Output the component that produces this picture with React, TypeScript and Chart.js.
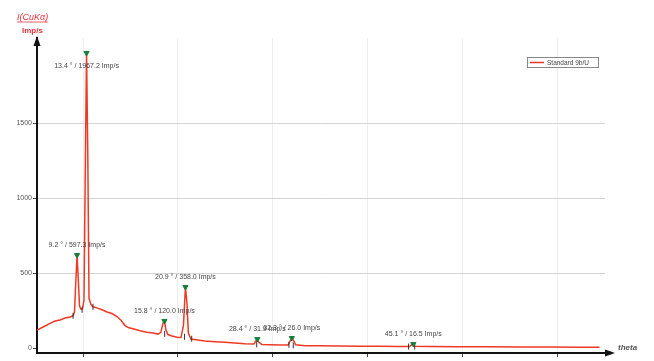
import React, { useEffect, useRef } from "react";
import { Chart, registerables } from "chart.js";
Chart.register(...registerables);

// ---- data (2θ in degrees, intensity in Imp/s) ----
const thetaValues = [
  5.16, 6.0, 6.53, 7.05, 7.58, 8.1, 8.63, 8.95, 9.1, 9.21, 9.37, 9.53, 9.63, 9.79, 9.95,
  10.1, 10.24, 10.37, 10.5, 10.63, 10.84, 11.05, 11.47, 12.0, 12.53, 13.05, 13.58, 14.0,
  14.42, 14.84, 15.26, 16.0, 16.74, 17.37, 17.9, 18.2, 18.42, 18.58, 18.74, 18.95, 19.37,
  19.9, 20.32, 20.58, 20.79, 20.95, 21.1, 21.37, 21.9, 22.84, 23.9, 24.95, 26.0, 27.05,
  28.0, 28.2, 28.37, 28.5, 28.84, 29.7, 30.74, 31.6, 31.8, 32.0, 32.2, 32.4, 33.4, 34.95,
  37.05, 39.16, 41.26, 43.37, 44.42, 44.63, 44.8, 44.95, 46.5, 49.7, 52.84, 56.0, 59.16,
  62.3, 64.42,
];
const intensityValues = [
  120, 147, 165, 180, 187, 200, 207, 215, 240, 400, 620, 420, 280, 258, 262,
  320, 1200, 1967, 1300, 330, 290, 275, 268, 255, 240, 230, 210, 185,
  150, 135, 128, 115, 105, 100, 93, 105, 165, 180, 120, 90, 80,
  72, 70, 150, 407, 300, 100, 60, 55, 47, 42, 38, 33, 28,
  27, 45, 60, 40, 24, 22, 20, 20, 45, 67, 50, 22, 15, 15,
  13, 12, 12, 10, 10, 22, 27, 12, 10, 8, 8, 7, 7,
  6, 6,
];
const peakTheta = [9.37, 10.37, 18.58, 20.79, 28.37, 32.0, 44.8];
const peakIntensity = [620, 1967, 180, 407, 60, 67, 27];
const peakLabels = [
  "9.2 ° / 597.3 Imp/s",
  "13.4 ° / 1967.2 Imp/s",
  "15.8 ° / 120.0 Imp/s",
  "20.9 ° / 358.0 Imp/s",
  "28.4 ° / 31.9 Imp/s",
  "32.3 ° / 26.0 Imp/s",
  "45.1 ° / 16.5 Imp/s",
];
const baseTheta = [8.95, 9.9, 11.05, 18.6, 20.7, 21.45, 28.3, 31.7, 32.15, 44.3, 44.95];
const baseIntensity = [215, 255, 275, 95, 75, 62, 25, 22, 18, 10, 10];
const yTickValues = [0, 500, 1000, 1500];
const xTickValues = [10, 20, 30, 40, 50, 60];
const seriesName = "Standard 9b/U";
const yTitle = "I(CuKα)";
const yUnit = "Imp/s";
const xTitle = "theta";

const FONT = "'Liberation Sans', Arial, sans-serif";

const overlay = {
  id: "overlay",
  afterDatasetsDraw(chart: any) {
    const { ctx, chartArea, scales } = chart;
    const xs = scales.x;
    const ys = scales.y;
    ctx.save();

    // peak labels
    ctx.font = `7px ${FONT}`;
    ctx.fillStyle = "#444";
    ctx.textAlign = "center";
    ctx.textBaseline = "middle";
    peakTheta.forEach((t, i) => {
      const px = xs.getPixelForValue(t);
      const py = ys.getPixelForValue(peakIntensity[i]);
      const ly = Math.max(py - 10, chartArea.top + 28);
      ctx.fillText(peakLabels[i], px, ly);
    });

    // axis arrows
    ctx.fillStyle = "#111";
    ctx.strokeStyle = "#111";
    ctx.lineWidth = 2;
    const left = chartArea.left;
    const bottom = chartArea.bottom;
    ctx.beginPath();
    ctx.moveTo(left, chartArea.top - 2);
    ctx.lineTo(left - 3.5, chartArea.top + 8);
    ctx.lineTo(left + 3.5, chartArea.top + 8);
    ctx.closePath();
    ctx.fill();
    ctx.beginPath();
    ctx.moveTo(chartArea.right, bottom);
    ctx.lineTo(chartArea.right + 4, bottom);
    ctx.stroke();
    ctx.beginPath();
    ctx.moveTo(chartArea.right + 10, bottom);
    ctx.lineTo(chartArea.right, bottom - 3.5);
    ctx.lineTo(chartArea.right, bottom + 3.5);
    ctx.closePath();
    ctx.fill();

    // axis titles
    ctx.textAlign = "left";
    ctx.fillStyle = "#555";
    ctx.font = `italic bold 8px ${FONT}`;
    ctx.fillText(xTitle, chartArea.right + 13, bottom - 5);

    ctx.fillStyle = "#e8323c";
    ctx.font = `italic 9px ${FONT}`;
    ctx.fillText(yTitle, 17, 17);
    const w = ctx.measureText(yTitle).width;
    ctx.strokeStyle = "#e8323c";
    ctx.lineWidth = 0.8;
    ctx.beginPath();
    ctx.moveTo(17, 22);
    ctx.lineTo(17 + w, 22);
    ctx.stroke();
    ctx.font = `bold 8px ${FONT}`;
    ctx.fillText(yUnit, 22, 31);

    // legend
    const lx = 527, ly = 57, lw = 71, lh = 10;
    ctx.fillStyle = "#fff";
    ctx.fillRect(lx, ly, lw, lh);
    ctx.strokeStyle = "#888";
    ctx.lineWidth = 1;
    ctx.strokeRect(lx + 0.5, ly + 0.5, lw, lh);
    ctx.strokeStyle = "#ee3a24";
    ctx.lineWidth = 1.5;
    ctx.beginPath();
    ctx.moveTo(lx + 3, ly + 5.5);
    ctx.lineTo(lx + 17, ly + 5.5);
    ctx.stroke();
    ctx.fillStyle = "#444";
    ctx.font = `6.5px ${FONT}`;
    ctx.fillText(seriesName, lx + 20, ly + 6);

    ctx.restore();
  },
};

export default function App() {
  const ref = useRef<HTMLCanvasElement | null>(null);

  useEffect(() => {
    if (!ref.current) return;
    const curve = thetaValues.map((t, i) => ({ x: t, y: intensityValues[i] }));
    const peaks = peakTheta.map((t, i) => ({ x: t, y: peakIntensity[i] }));
    const bases = baseTheta.map((t, i) => ({ x: t, y: baseIntensity[i] }));

    const chart = new Chart(ref.current, {
      type: "scatter",
      data: {
        datasets: [
          {
            label: "peaks",
            data: peaks,
            showLine: false,
            pointStyle: "triangle",
            rotation: 180,
            pointRadius: 3,
            backgroundColor: "#1b7f3b",
            borderColor: "#1b7f3b",
            borderWidth: 1,
          },
          {
            label: "bases",
            data: bases,
            showLine: false,
            pointStyle: "line",
            rotation: 90,
            pointRadius: 3,
            borderColor: "#333",
            borderWidth: 1,
          },
          {
            label: seriesName,
            data: curve,
            showLine: true,
            pointRadius: 0,
            borderColor: "#ee3a24",
            borderWidth: 1.5,
            tension: 0,
          },
        ],
      },
      options: {
        animation: false,
        responsive: false,
        layout: { padding: { top: 38, right: 49, left: 0, bottom: 0 } },
        plugins: {
          legend: { display: false },
          tooltip: { enabled: false },
          title: { display: false },
        },
        scales: {
          x: {
            type: "linear",
            min: 5.15,
            max: 65,
            afterBuildTicks: (s: any) => {
              s.ticks = xTickValues.map((v) => ({ value: v }));
            },
            afterFit: (s: any) => {
              s.height = 8;
            },
            ticks: { display: false },
            grid: {
              color: "#eeeeee",
              tickColor: "#444",
              tickLength: 4,
            },
            border: { color: "#111", width: 2 },
          },
          y: {
            type: "linear",
            min: -33,
            max: 2067,
            afterBuildTicks: (s: any) => {
              s.ticks = yTickValues.map((v) => ({ value: v }));
            },
            afterFit: (s: any) => {
              s.width = 37;
            },
            ticks: {
              color: "#555",
              padding: 1,
              font: { size: 7, family: FONT },
              callback: (v: any) => String(v),
            },
            grid: {
              color: (c: any) => (c.tick && c.tick.value === 0 ? "rgba(0,0,0,0)" : "#d4d4d4"),
              tickColor: "#444",
              tickLength: 4,
            },
            border: { color: "#111", width: 2 },
          },
        },
      },
      plugins: [overlay],
    });
    return () => chart.destroy();
  }, []);

  return (
    <div style={{ position: "fixed", left: 0, top: 0, width: 654, height: 361, background: "#fff" }}>
      <canvas ref={ref} width={654} height={361} style={{ width: 654, height: 361 }} />
    </div>
  );
}
